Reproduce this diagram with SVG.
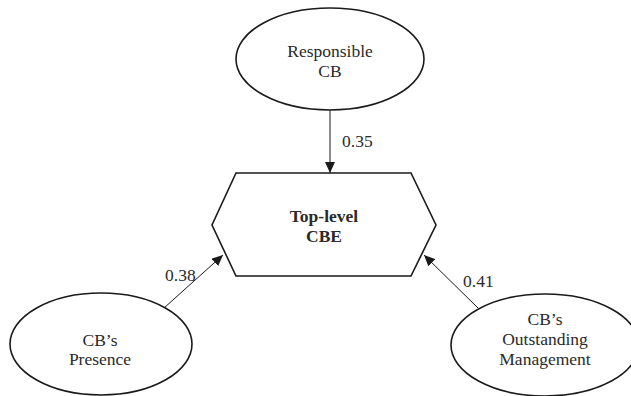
<svg xmlns="http://www.w3.org/2000/svg" width="631" height="396" viewBox="0 0 631 396">
<style>
.shape{fill:#fff;stroke:#1a1a1a;stroke-width:1.6}
.lbl{font-family:"Liberation Serif","Times New Roman",serif;font-size:17.5px;fill:#2a2a2a;text-anchor:middle}
.b{font-weight:bold}
.edge{stroke:#1a1a1a;stroke-width:1;fill:none;marker-end:url(#ah)}
.num{font-family:"Liberation Serif","Times New Roman",serif;font-size:17.5px;fill:#2a2a2a}
</style>
<defs>
<marker id="ah" markerUnits="userSpaceOnUse" markerWidth="12" markerHeight="10" refX="11" refY="5" orient="auto">
<path d="M0,0 L11,5 L0,10 z" fill="#1a1a1a"/>
</marker>
</defs>
<rect width="631" height="396" fill="#fff"/>
<g id="connectors">
<line class="edge" x1="330" y1="110" x2="330" y2="173"/>
<line class="edge" x1="164" y1="308" x2="223" y2="255"/>
<line class="edge" x1="478" y1="308" x2="424" y2="255"/>
<text class="num" x="342" y="147">0.35</text>
<text class="num" x="165" y="281">0.38</text>
<text class="num" x="463" y="287">0.41</text>
</g>
<g id="responsible-cb">
<ellipse class="shape" cx="330" cy="59" rx="94" ry="51"/>
<text class="lbl" x="330" y="57">Responsible</text>
<text class="lbl" x="330" y="77">CB</text>
</g>
<g id="top-level-cbe">
<polygon class="shape" points="236,173 411,173 436,225 411,276 236,276 212,225"/>
<text class="lbl b" x="324" y="222">Top-level</text>
<text class="lbl b" x="324" y="242">CBE</text>
</g>
<g id="cbs-presence">
<ellipse class="shape" cx="101" cy="344" rx="91" ry="51"/>
<text class="lbl" x="100" y="346">CB’s</text>
<text class="lbl" x="100" y="365">Presence</text>
</g>
<g id="cbs-outstanding-management">
<ellipse class="shape" cx="545" cy="345" rx="94" ry="51"/>
<text class="lbl" x="545" y="325">CB’s</text>
<text class="lbl" x="545" y="345">Outstanding</text>
<text class="lbl" x="545" y="365">Management</text>
</g>
</svg>
